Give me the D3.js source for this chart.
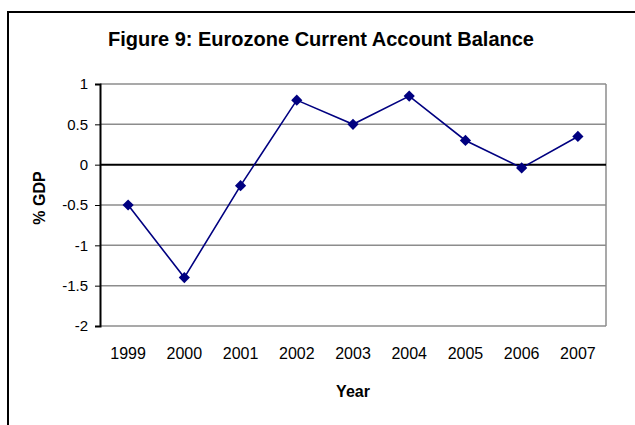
<!DOCTYPE html>
<html>
<head>
<meta charset="utf-8">
<script src="https://cdn.jsdelivr.net/npm/d3@7"></script>
<style>
  body { margin: 0; background: #fff; }
  svg { display: block; font-family: Arial, "Liberation Sans", sans-serif; }
</style>
</head>
<body>
<svg id="chart" width="635" height="425"></svg>
<script>
const years = ['1999', '2000', '2001', '2002', '2003', '2004', '2005', '2006', '2007'];
const balance = [-0.5, -1.4, -0.26, 0.8, 0.5, 0.85, 0.3, -0.04, 0.35];
const yTicks = [-2, -1.5, -1, -0.5, 0, 0.5, 1];

const svg = d3.select('#chart');
const margin = { top: 84, left: 100, right: 29, bottom: 99 };
const width = 635 - margin.left - margin.right;
const height = 425 - margin.top - margin.bottom;

// outer frame (runs off the right and bottom edges)
svg.append('rect')
  .attr('x', 8).attr('y', 12)
  .attr('width', 660).attr('height', 440)
  .attr('fill', 'none')
  .attr('stroke', '#000')
  .attr('stroke-width', 2);

svg.append('text')
  .attr('x', 321).attr('y', 46)
  .attr('text-anchor', 'middle')
  .style('font-weight', 'bold')
  .style('font-size', '20px')
  .text('Figure 9: Eurozone Current Account Balance');

const chart = svg.append('g')
  .attr('transform', `translate(${margin.left}, ${margin.top})`);

const x = d3.scaleBand().domain(years).range([0, width]);
const y = d3.scaleLinear().domain([-2, 1]).range([height, 0]);

// gridlines
chart.selectAll('line.grid')
  .data(yTicks.filter((d) => d !== 0))
  .enter()
  .append('line')
  .attr('class', 'grid')
  .attr('x1', 0).attr('x2', width)
  .attr('y1', (d) => y(d)).attr('y2', (d) => y(d))
  .attr('stroke', '#8c8c8c')
  .attr('stroke-width', 1.5);

// right border of plot area
chart.append('line')
  .attr('x1', width).attr('x2', width)
  .attr('y1', 0).attr('y2', height)
  .attr('stroke', '#8c8c8c')
  .attr('stroke-width', 1.5);

// zero line
chart.append('line')
  .attr('x1', 0).attr('x2', width)
  .attr('y1', y(0)).attr('y2', y(0))
  .attr('stroke', '#000')
  .attr('stroke-width', 2);

const yAxis = chart.append('g')
  .call(d3.axisLeft(y).tickValues(yTicks).tickSize(5).tickPadding(7).tickFormat((d) => d));
yAxis.select('.domain').attr('stroke-width', 2);
yAxis.selectAll('text')
  .style('font-size', '15px')
  .attr('fill', '#000');

const xAxis = chart.append('g')
  .attr('transform', `translate(0, ${height})`)
  .call(d3.axisBottom(x).tickSize(0).tickPadding(22));
xAxis.select('.domain').remove();
xAxis.selectAll('text')
  .style('font-size', '16px')
  .attr('fill', '#000');

const line = d3.line()
  .x((d, i) => x(years[i]) + x.bandwidth() / 2)
  .y((d) => y(d));

chart.append('path')
  .datum(balance)
  .attr('d', line)
  .attr('fill', 'none')
  .attr('stroke', '#000080')
  .attr('stroke-width', 1.6);

chart.selectAll('path.marker')
  .data(balance)
  .enter()
  .append('path')
  .attr('class', 'marker')
  .attr('d', d3.symbol().type(d3.symbolDiamond2).size(80))
  .attr('transform', (d, i) => `translate(${x(years[i]) + x.bandwidth() / 2}, ${y(d)})`)
  .attr('fill', '#000080');

svg.append('text')
  .attr('x', margin.left + width / 2)
  .attr('y', 397)
  .attr('text-anchor', 'middle')
  .style('font-weight', 'bold')
  .style('font-size', '16px')
  .text('Year');

svg.append('text')
  .attr('transform', 'translate(45, 198) rotate(-90)')
  .attr('text-anchor', 'middle')
  .style('font-weight', 'bold')
  .style('font-size', '16px')
  .text('% GDP');
</script>
</body>
</html>
